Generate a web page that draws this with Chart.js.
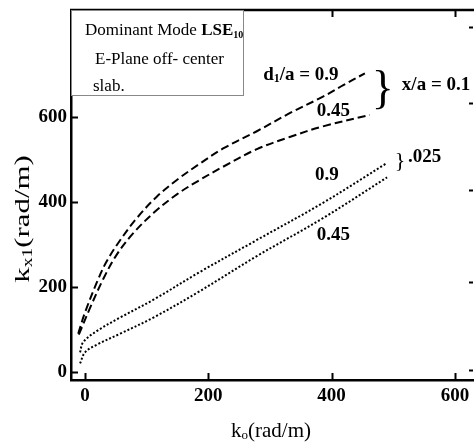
<!DOCTYPE html>
<html><head><meta charset="utf-8">
<script src="https://cdn.jsdelivr.net/npm/chart.js@4/dist/chart.umd.min.js"></script>
<style>html,body{margin:0;padding:0;background:#fff;overflow:hidden}</style>
</head><body>
<canvas id="c" width="474" height="446"></canvas>
<script>
// ---- data ----
const xTicks = [0, 200, 400, 600];
const yTicks = [0, 200, 400, 600];
const rightTicks = [5, 212, 428, 633, 812];

const k0Dash09  = [-11, 0, 19, 35, 57, 84, 116, 149, 184, 224, 278, 332, 386, 419, 454];
const kxDash09  = [90, 140, 210, 260, 310, 362, 412, 452, 488, 526, 566, 609, 648, 675, 703];
const k0Dash045 = [-10, 8, 30, 51, 78, 111, 149, 184, 224, 278, 332, 386, 462];
const kxDash045 = [88, 150, 220, 275, 326, 374, 418, 450, 483, 524, 553, 578, 605];
const k0Dot09   = [-8, -3, 19, 57, 111, 186, 278, 386, 490];
const kxDot09   = [46, 70, 96, 128, 170, 235, 310, 398, 492];
const k0Dot045  = [-8, 0, 19, 57, 111, 186, 278, 386, 490];
const kxDot045  = [20, 46, 64, 90, 128, 190, 272, 362, 458];

const SERIF = "'Liberation Serif','Times New Roman',serif";
const B19 = "bold 19px " + SERIF;
const B12 = "bold 12px " + SERIF;

// annotation texts placed at data coordinates
const notes = [
  {x: 289, y: 699, parts: [{t: 'd', f: B19}, {t: '1', f: B12, dy: 4}, {t: '/a = 0.9', f: B19}]},
  {x: 376, y: 614, parts: [{t: '0.45', f: B19}]},
  {x: 514, y: 675, parts: [{t: 'x/a = 0.1', f: B19}]},
  {x: 373, y: 464, parts: [{t: '0.9', f: B19}]},
  {x: 376, y: 322, parts: [{t: '0.45', f: B19}]},
  {x: 524, y: 506, parts: [{t: '.025', f: B19}]}
];
const braces = [
  {x: 483, y: 661, size: 46},
  {x: 511, y: 496, size: 22}
];

function pts(xs, ys) { return xs.map((v, i) => ({x: v, y: ys[i]})); }

function drawRich(ctx, parts, x, y) {
  let cx = x;
  for (const p of parts) {
    ctx.font = p.f;
    ctx.fillText(p.t, cx, y + (p.dy || 0));
    cx += ctx.measureText(p.t).width;
  }
  return cx - x;
}
function richWidth(ctx, parts) {
  let w = 0;
  for (const p of parts) { ctx.font = p.f; w += ctx.measureText(p.t).width; }
  return w;
}

const decor = {
  id: 'decor',
  afterDraw(chart) {
    const ctx = chart.ctx, a = chart.chartArea;
    const xs = chart.scales.x, ys = chart.scales.y;
    ctx.save();
    ctx.strokeStyle = '#000';
    ctx.fillStyle = '#000';
    // top frame line
    ctx.lineWidth = 2.5;
    ctx.beginPath(); ctx.moveTo(a.left - 1, a.top); ctx.lineTo(a.right, a.top); ctx.stroke();
    // inward ticks
    ctx.lineWidth = 2;
    ctx.beginPath();
    for (const v of xTicks) {
      const px = Math.round(xs.getPixelForValue(v)) + 0.5;
      ctx.moveTo(px, a.bottom); ctx.lineTo(px, a.bottom - 7);
      ctx.moveTo(px, a.top); ctx.lineTo(px, a.top + 7);
    }
    for (const v of yTicks) {
      const py = Math.round(ys.getPixelForValue(v)) + 0.5;
      ctx.moveTo(a.left, py); ctx.lineTo(a.left + 7, py);
    }
    for (const v of rightTicks) {
      const py = Math.round(ys.getPixelForValue(v)) + 0.5;
      ctx.moveTo(a.right - 5, py); ctx.lineTo(a.right - 1, py);
    }
    ctx.stroke();

    // text box
    ctx.fillStyle = '#fff';
    ctx.fillRect(a.left + 1, a.top + 1, 171, 84);
    ctx.strokeStyle = '#888';
    ctx.lineWidth = 1;
    ctx.strokeRect(a.left + 0.5, a.top + 0.5, 172, 85);
    ctx.fillStyle = '#000';
    ctx.textAlign = 'left';
    ctx.textBaseline = 'middle';
    const R17 = "17px " + SERIF;
    drawRich(ctx, [{t: 'Dominant Mode ', f: R17}, {t: 'LSE', f: "bold 17px " + SERIF}, {t: '10', f: "bold 10px " + SERIF, dy: 4}], a.left + 14, a.top + 21);
    drawRich(ctx, [{t: 'E-Plane off- center', f: R17}], a.left + 24, a.top + 50);
    drawRich(ctx, [{t: 'slab.', f: R17}], a.left + 22, a.top + 77);

    // annotations
    for (const n of notes) {
      drawRich(ctx, n.parts, xs.getPixelForValue(n.x), ys.getPixelForValue(n.y));
    }
    ctx.textAlign = 'center';
    for (const b of braces) {
      ctx.font = b.size + 'px ' + SERIF;
      ctx.fillText('}', xs.getPixelForValue(b.x), ys.getPixelForValue(b.y));
    }

    // axis titles
    ctx.textAlign = 'left';
    const R21 = "21px " + SERIF, R13 = "13px " + SERIF;
    const xt = [{t: 'k', f: R21}, {t: 'o', f: R13, dy: 5}, {t: '(rad/m)', f: R21}];
    const xw = richWidth(ctx, xt);
    drawRich(ctx, xt, 271 - xw / 2, 431);
    const R22 = "22px " + SERIF, R14 = "14px " + SERIF;
    const yt = [{t: 'k', f: R22}, {t: 'x1', f: R14, dy: 5}, {t: '(rad/m)', f: R22}];
    const yw = richWidth(ctx, yt);
    ctx.translate(23, 219);
    ctx.rotate(-Math.PI / 2);
    ctx.scale(1.4, 1);
    drawRich(ctx, yt, -yw / 2, 0);
    ctx.restore();
  }
};

const common = {borderColor: '#000', borderWidth: 2, pointRadius: 0, fill: false, tension: 0.35};

new Chart(document.getElementById('c'), {
  type: 'line',
  data: {
    datasets: [
      Object.assign({label: 'd1/a=0.9, x/a=0.1', data: pts(k0Dash09, kxDash09), borderDash: [8, 4]}, common),
      Object.assign({label: 'd1/a=0.45, x/a=0.1', data: pts(k0Dash045, kxDash045), borderDash: [8, 4]}, common),
      Object.assign({label: 'd1/a=0.9, x/a=0.025', data: pts(k0Dot09, kxDot09), borderDash: [2, 2]}, common),
      Object.assign({label: 'd1/a=0.45, x/a=0.025', data: pts(k0Dot045, kxDot045), borderDash: [2, 2]}, common)
    ]
  },
  options: {
    responsive: false,
    devicePixelRatio: 1,
    animation: false,
    layout: {padding: {top: 10, right: 0, left: 0, bottom: 0}},
    plugins: {legend: {display: false}, tooltip: {enabled: false}},
    scales: {
      x: {
        type: 'linear', min: -22.7, max: 631,
        afterFit(s) { s.height = 66; s.paddingLeft = 0; s.paddingRight = 0; },
        afterBuildTicks(s) { s.ticks = xTicks.map(v => ({value: v})); },
        ticks: {font: {family: SERIF, size: 19, weight: 'bold'}, color: '#000', padding: 5, maxRotation: 0},
        grid: {display: true, drawOnChartArea: false, drawTicks: false},
        border: {display: true, color: '#000', width: 2.5}
      },
      y: {
        type: 'linear', min: -19, max: 852,
        afterFit(s) { s.width = 71; s.paddingTop = 0; s.paddingBottom = 0; },
        afterBuildTicks(s) { s.ticks = yTicks.map(v => ({value: v})); },
        ticks: {font: {family: SERIF, size: 19, weight: 'bold'}, color: '#000', padding: 4},
        grid: {display: true, drawOnChartArea: false, drawTicks: false},
        border: {display: true, color: '#000', width: 2.5}
      }
    }
  },
  plugins: [decor]
});
</script>
</body></html>
